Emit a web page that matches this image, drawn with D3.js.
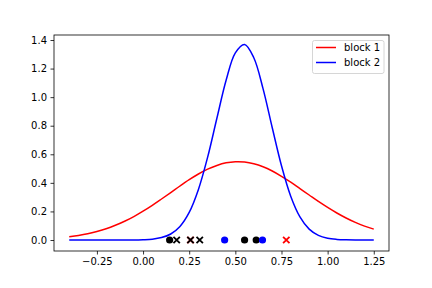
<!DOCTYPE html>
<html>
<head>
<meta charset="utf-8">
<script src="https://cdn.jsdelivr.net/npm/d3@7"></script>
<style>
  body { margin: 0; background: #fff; }
  text { font-family: "DejaVu Sans", sans-serif; }
</style>
</head>
<body>
<div id="chart"></div>
<script>
// sample points
let xs = [-0.40, -0.35, -0.30, -0.25, -0.20, -0.15, -0.10, -0.05, 0.00, 0.05,
          0.10, 0.15, 0.20, 0.25, 0.30, 0.35, 0.40, 0.45, 0.50, 0.55,
          0.60, 0.65, 0.70, 0.75, 0.80, 0.85, 0.90, 0.95, 1.00, 1.05,
          1.10, 1.15, 1.20, 1.25]
let block1 = [0.023, 0.032, 0.044, 0.060, 0.079, 0.103, 0.131, 0.164, 0.202, 0.243,
              0.287, 0.332, 0.378, 0.422, 0.462, 0.496, 0.522, 0.540, 0.548, 0.546,
              0.534, 0.513, 0.483, 0.446, 0.405, 0.360, 0.315, 0.270, 0.228, 0.189,
              0.154, 0.123, 0.097, 0.076]
let block2 = [0.000, 0.000, 0.000, 0.000, 0.000, 0.000, 0.000, 0.000, 0.002, 0.006,
              0.017, 0.042, 0.095, 0.193, 0.354, 0.580, 0.852, 1.118, 1.310, 1.369,
              1.276, 1.060, 0.786, 0.520, 0.307, 0.162, 0.076, 0.032, 0.012, 0.004,
              0.001, 0.000, 0.000, 0.000]
let seriesNames = ["block 1", "block 2"]
let seriesColors = ["red", "blue"]

// points along the bottom
let dotX = [0.144, 0.550, 0.613]
let dotColors = ["black", "black", "black"]
let blueDotX = [0.442, 0.647]
let crossX = [0.257, 0.776]
let crossColors = ["red", "red"]
let blackCrossX = [0.182, 0.257, 0.307]

let xTicks = [-0.25, 0.00, 0.25, 0.50, 0.75, 1.00, 1.25]
let yTicks = [0.0, 0.2, 0.4, 0.6, 0.8, 1.0, 1.2, 1.4]

let width = 432
let height = 288
let margin = { left: 54, right: 43, top: 35, bottom: 37 }

let svg = d3.select("#chart")
    .append("svg")
    .attr("width", width)
    .attr("height", height)

let x = d3.scaleLinear()
    .domain([-0.4825, 1.3325])
    .range([margin.left, width - margin.right])
let y = d3.scaleLinear()
    .domain([-0.077, 1.435])
    .range([height - margin.bottom, margin.top])

let xAxis = svg.append("g")
    .attr("transform", "translate(0," + (height - margin.bottom) + ")")
    .call(d3.axisBottom(x).tickValues(xTicks).tickSize(3.5).tickPadding(3.5)
        .tickFormat(d => d3.format(".2f")(d).replace("-", "\u2212")))
let yAxis = svg.append("g")
    .attr("transform", "translate(" + margin.left + ",0)")
    .call(d3.axisLeft(y).tickValues(yTicks).tickSize(3.5).tickPadding(3.5)
        .tickFormat(d3.format(".1f")))
svg.selectAll(".tick text").style("font-size", "10px").attr("fill", "#000")
svg.selectAll(".domain").remove()
svg.selectAll(".tick line").attr("stroke", "#000").attr("stroke-width", 0.8)

let line = d3.line()
    .x((d, i) => x(xs[i]))
    .y(d => y(d))
    .curve(d3.curveCatmullRom)

let plot = svg.append("g")
plot.append("path")
    .attr("d", line(block1))
    .attr("fill", "none")
    .attr("stroke", seriesColors[0])
    .attr("stroke-width", 1.5)
plot.append("path")
    .attr("d", line(block2))
    .attr("fill", "none")
    .attr("stroke", seriesColors[1])
    .attr("stroke-width", 1.5)

function cross(g, cx, color) {
    let s = 3.2
    let p = "M" + (cx - s) + "," + (y(0) - s) + "L" + (cx + s) + "," + (y(0) + s) +
        "M" + (cx - s) + "," + (y(0) + s) + "L" + (cx + s) + "," + (y(0) - s)
    g.append("path").attr("d", p).attr("stroke", color).attr("stroke-width", 1.8)
}

plot.selectAll(".dot")
    .data(dotX)
    .enter()
    .append("circle")
    .attr("cx", d => x(d))
    .attr("cy", y(0))
    .attr("r", 3.6)
    .attr("fill", (d, i) => dotColors[i])
plot.selectAll(".bdot")
    .data(blueDotX)
    .enter()
    .append("circle")
    .attr("cx", d => x(d))
    .attr("cy", y(0))
    .attr("r", 3.6)
    .attr("fill", "blue")
crossX.forEach((d, i) => cross(plot, x(d), crossColors[i]))
blackCrossX.forEach(d => cross(plot, x(d), "black"))

// frame
svg.append("rect")
    .attr("x", margin.left)
    .attr("y", margin.top)
    .attr("width", width - margin.left - margin.right)
    .attr("height", height - margin.top - margin.bottom)
    .attr("fill", "none")
    .attr("stroke", "#000")
    .attr("stroke-width", 0.8)

// legend
let legend = svg.append("g")
legend.append("rect")
    .attr("x", 312.5)
    .attr("y", 40.5)
    .attr("width", 71.5)
    .attr("height", 33)
    .attr("rx", 2)
    .attr("fill", "#fff")
    .attr("fill-opacity", 0.8)
    .attr("stroke", "#ccc")
    .attr("stroke-width", 0.8)
seriesNames.forEach((name, i) => {
    let ly = 47.5 + i * 15
    legend.append("line")
        .attr("x1", 316).attr("x2", 336)
        .attr("y1", ly).attr("y2", ly)
        .attr("stroke", seriesColors[i])
        .attr("stroke-width", 1.5)
    legend.append("text")
        .attr("x", 344)
        .attr("y", ly + 3.6)
        .style("font-size", "10px")
        .attr("fill", "#000")
        .text(name)
})
</script>
</body>
</html>
